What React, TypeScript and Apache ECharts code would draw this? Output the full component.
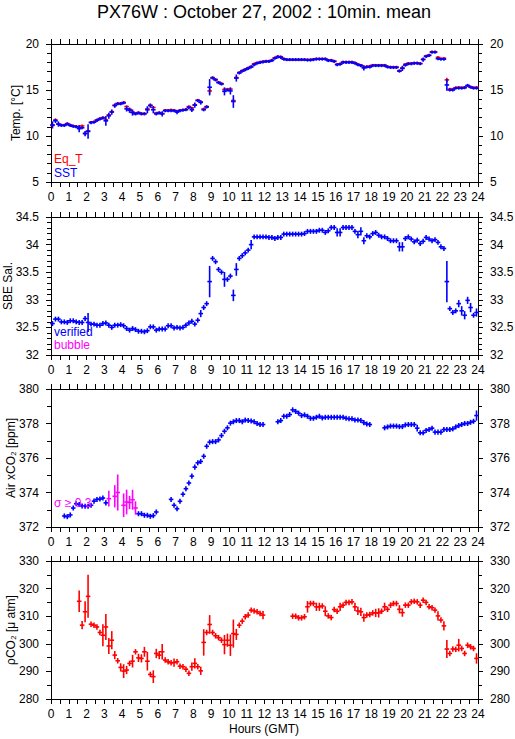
import React, { useEffect, useRef } from "react";
import * as echarts from "echarts";

const TITLE = "PX76W : October 27, 2002 : 10min. mean";
const X_NAME = "Hours (GMT)";
const X_MIN = 0;
const X_MAX = 24;
const SLOT_H = 1 / 6; // 10-minute means

// Panel 1: temperatures (°C), one value per 10-min slot
const EQ_T = [
  11.15, 11.75, 11.3, 11.2, 11.2, 11.35, 11.2, 11.1, 11.05, 10.95,
  11.1, 10.3, 10.55, 11.5, 11.55, 11.75, 11.9, 12.0, 11.75, 12.3,
  12.65, 13.35, 13.55, 13.55, 13.65, 13.2, 12.9, 12.6, 12.45, 12.55,
  12.45, 12.45, 12.95, 13.35, 13.1, 12.5, 12.55, 12.45, 12.8, 12.8,
  12.85, 12.8, 12.7, 12.8, 12.85, 12.9, 13.2, 13.05, 13.4, 13.9,
  13.7, 12.95, 13.2, 14.9, 16.35, 16.15, 15.85, 15.7, 15.05, 15.1,
  15.1, 13.85, 16.35, 16.9, 17.1, 17.25, 17.4, 17.55, 17.85, 17.95,
  18.0, 18.1, 18.15, 18.15, 18.25, 18.5, 18.65, 18.6, 18.4, 18.3,
  18.3, 18.3, 18.3, 18.3, 18.3, 18.3, 18.3, 18.3, 18.35, 18.4,
  18.4, 18.4, 18.4, 18.25, 18.25, 18.15, 17.8, 17.85, 18.05, 18.05,
  18.05, 18.05, 17.95, 17.8, 17.7, 17.5, 17.55, 17.6, 17.7, 17.7,
  17.7, 17.7, 17.7, 17.55, 17.5, 17.5, 17.5, 17.1, 17.4, 17.8,
  17.9, 17.9, 17.95, 17.95, 17.9, 18.35, 18.7, 18.8, 19.15, 19.15,
  18.55, 18.4, 18.45, 16.1, 15.1, 15.1, 15.25, 15.3, 15.25, 15.3,
  15.45, 15.35, 15.25, 15.3,
];
const EQ_T_ERR: Record<number, number> = { 53: 0.2, 133: 0.15 };
const EQ_T_ERR_DEFAULT = 0.05;

const SST = [
  11.2, 11.65, 11.3, 11.15, 11.15, 11.3, 11.15, 11.05, 11.0, 10.8,
  10.9, 10.25, 10.5, 11.45, 11.5, 11.7, 11.85, 11.95, 11.65, 12.2,
  12.6, 13.3, 13.5, 13.5, 13.6, 12.95, 12.8, 12.55, 12.4, 12.5,
  12.4, 12.4, 12.85, 13.3, 12.85, 12.4, 12.5, 12.4, 12.75, 12.75,
  12.75, 12.75, 12.6, 12.75, 12.8, 12.85, 13.1, 12.85, 13.35, 13.85,
  13.65, 12.85, 13.15, 15.3, 16.3, 16.1, 15.8, 15.65, 14.85, 15.0,
  14.9, 13.75, 16.3, 16.85, 17.05, 17.2, 17.35, 17.5, 17.75, 17.9,
  18.0, 18.05, 18.1, 18.1, 18.2, 18.45, 18.6, 18.55, 18.35, 18.3,
  18.3, 18.3, 18.3, 18.3, 18.3, 18.3, 18.25, 18.25, 18.3, 18.35,
  18.35, 18.35, 18.35, 18.2, 18.2, 18.1, 17.75, 17.8, 18.0, 18.0,
  18.0, 18.0, 17.9, 17.75, 17.65, 17.4, 17.5, 17.5, 17.65, 17.65,
  17.65, 17.65, 17.65, 17.5, 17.45, 17.45, 17.45, 17.05, 17.35, 17.7,
  17.85, 17.85, 17.9, 17.9, 17.85, 18.3, 18.65, 18.75, 19.1, 19.1,
  18.4, 18.35, 18.35, 15.55, 15.0, 15.0, 15.2, 15.2, 15.2, 15.25,
  15.5, 15.3, 15.2, 15.2,
];
const SST_ERR: Record<number, number> = {
  0: 0.3, 1: 0.15, 2: 0.2, 9: 0.3, 11: 0.2, 12: 0.7, 18: 0.45, 19: 0.25, 20: 0.2,
  21: 0.15, 25: 0.2, 26: 0.2, 27: 0.25, 32: 0.3, 33: 0.15, 34: 0.3, 37: 0.2,
  42: 0.15, 47: 0.15, 48: 0.2, 50: 0.15, 53: 0.8, 58: 0.35, 60: 0.3, 61: 0.6,
  62: 0.3, 105: 0.2, 118: 0.2, 125: 0.15, 133: 0.55,
};
const SST_ERR_DEFAULT = 0.08;

// Panel 2: SBE salinity (verified)
const SAL = [
  32.57, 32.65, 32.65, 32.6, 32.6, 32.59, 32.62, 32.62, 32.6, 32.59,
  32.59, 32.66, 32.59, 32.56, 32.56, 32.54, 32.54, 32.57, 32.58, 32.54,
  32.5, 32.54, 32.54, 32.55, 32.53, 32.48, 32.45, 32.48, 32.46, 32.43,
  32.43, 32.42, 32.44, 32.51, 32.51, 32.45, 32.47, 32.47, 32.47, 32.53,
  32.53, 32.49, 32.5, 32.49, 32.5, 32.54, 32.58, 32.61, 32.56, 32.63,
  32.75, 32.86, 32.93, 33.33, 33.75, 33.69, 33.55, 33.5, 33.37, 33.37,
  33.43, 33.08, 33.55, 33.75, 33.8, 33.85, 33.9, 34.0, 34.14, 34.14,
  34.14, 34.14, 34.14, 34.13, 34.13, 34.11, 34.13, 34.13, 34.19, 34.19,
  34.19, 34.19, 34.19, 34.19, 34.19, 34.2, 34.24, 34.24, 34.24, 34.24,
  34.26, 34.26, 34.22, 34.25, 34.31, 34.31, 34.22, 34.22, 34.31, 34.31,
  34.31, 34.31, 34.24, 34.18, 34.24, 34.07, 34.16, 34.14, 34.2, 34.22,
  34.17, 34.14, 34.14, 34.11, 34.07, 34.07, 34.07, 33.96, 33.96, 34.11,
  34.14, 34.1, 34.05, 34.08, 34.02, 34.06, 34.13, 34.1, 34.07, 34.09,
  34.04, 33.96, 33.93, 33.33, 32.84, 32.77, 32.8, 32.93, 32.8, 32.72,
  32.99, 32.86, 32.72, 32.77,
];
const SAL_ERR: Record<number, number> = {
  12: 0.157, 50: 0.05, 53: 0.27, 58: 0.12, 61: 0.09, 62: 0.1, 67: 0.07,
  96: 0.06, 97: 0.06, 103: 0.05, 104: 0.06, 105: 0.05, 117: 0.07, 118: 0.07,
  133: 0.36, 137: 0.05, 138: 0.07, 139: 0.06, 140: 0.05, 141: 0.07, 143: 0.06,
};
const SAL_ERR_DEFAULT = 0.03;

// Panel 3: atmospheric xCO2 (ppm)
const AIR = [
  null, null, null, null, 372.64, 372.6, 372.7, 373.1, 373.35, 373.3,
  373.22, 373.2, 373.2, 373.26, 373.5, 373.6, 373.62, 373.68, 373.4, 373.64,
  null, 373.78, 374.0, null, 373.26, 373.45, 373.42, 373.58, 373.1, 372.77,
  372.77, 372.68, 372.68, 372.62, 372.66, 372.87, null, null, null, null,
  373.6, 373.26, 373.06, 373.49, 373.9, 374.22, 374.55, 374.95, 375.47, 375.72,
  375.8, 376.1, 376.68, 376.92, 376.95, 376.95, 377.05, 377.3, 377.55, 377.75,
  378.02, 378.1, 378.17, 378.17, 378.1, 378.2, 378.17, 378.15, 378.1, 378.0,
  377.94, 377.94, null, null, null, null, 378.1, 378.17, 378.42, 378.42,
  378.52, 378.79, 378.7, 378.6, 378.46, 378.5, 378.42, 378.3, 378.3, 378.36,
  378.42, 378.32, 378.36, 378.36, 378.36, 378.36, 378.36, 378.36, 378.36, 378.3,
  378.27, 378.27, 378.2, 378.2, 378.17, 378.05, 377.97, 377.94, null, null,
  null, null, 377.75, 377.8, 377.85, 377.85, 377.85, 377.82, 377.82, 377.92,
  377.94, 377.94, 377.94, 377.73, 377.46, 377.46, 377.6, 377.65, 377.73, 377.5,
  377.5, 377.5, 377.65, 377.65, 377.65, 377.69, 377.8, 377.88, 377.94, 378.0,
  378.0, 378.07, 378.13, 378.46,
];
const AIR_ERR: Record<number, number> = {
  19: 0.41, 21: 0.6, 22: 1.0, 24: 0.64, 25: 0.67, 26: 0.34, 27: 0.53, 28: 0.34,
  123: 0.15, 143: 0.25,
};
const AIR_ERR_DEFAULT = 0.1;
const SIGMA_LIMIT = 0.3;

// Panel 4: pCO2 (µatm)
const PCO2 = [
  null, null, null, null, null, null, null, null, null, 315.4,
  306.75, 311.6, 317.2, 307.1, 306.75, 306.1, 304.1, 303.1, 306.1, 299.2,
  301.3, 295.9, 293.85, 291.45, 290.1, 290.5, 292.9, 293.7, 297.1, 294.9,
  294.7, 297.1, 293.7, 288.9, 288.1, 296.5, 295.9, 297.1, 294.1, 293.5,
  293.1, 293.2, 293.5, 291.9, 291.7, 290.8, 289.3, 291.7, 292.9, 291.7,
  290.2, 300.5, 304.1, 307.0, 304.1, 302.9, 302.2, 301.3, 299.7, 301.3,
  299.5, 303.7, 303.4, 306.75, 308.2, 309.8, 310.4, 312.2, 311.9, 311.6,
  311.0, 310.4, null, null, null, null, null, null, null, null,
  null, 310.0, 310.0, 309.4, 309.4, 309.8, 313.4, 314.6, 314.6, 313.4,
  313.4, 313.7, 311.8, 310.1, 309.5, 312.4, 311.8, 313.4, 314.0, 315.0,
  315.0, 315.2, 313.4, 311.9, 311.6, 309.5, 310.4, 310.6, 311.2, 311.2,
  311.2, 311.8, 313.4, 312.5, 314.0, 314.6, 314.6, 312.5, 311.3, 314.0,
  314.0, 315.2, 315.4, 315.2, 314.0, 315.8, 315.0, 313.4, 313.1, 312.2,
  310.1, 308.6, 306.5, 298.1, 296.5, 298.1, 298.0, 299.5, 298.3, 296.5,
  299.5, 298.9, 298.3, 294.7,
];
const PCO2_ERR: Record<number, number> = {
  9: 3.6, 10: 1.2, 11: 3.5, 12: 7.5, 17: 3.7, 18: 4.4, 19: 2.6, 20: 3.0, 21: 1.2,
  23: 1.2, 24: 2.2, 25: 1.2, 27: 2.0, 29: 1.2, 30: 1.2, 31: 1.5, 32: 3.1, 34: 2.0,
  35: 1.4, 36: 1.2, 37: 2.5, 41: 1.2, 47: 1.2, 48: 1.6, 50: 1.2, 51: 4.5, 53: 3.1,
  58: 3.2, 59: 2.1, 60: 3.6, 61: 4.8, 62: 1.7, 71: 1.2, 86: 1.8, 89: 1.2, 90: 1.2,
  92: 1.5, 97: 1.2, 102: 1.2, 103: 1.2, 104: 1.2, 105: 1.2, 109: 1.2, 110: 1.4,
  112: 1.2, 117: 1.2, 118: 1.2, 130: 1.4, 132: 1.4, 133: 3.0, 137: 2.0, 143: 1.6,
};
const PCO2_ERR_DEFAULT = 0.7;

const PANELS = [
  { name: "Temp. [°C]", min: 5, max: 20, interval: 5, minor: 5, nameGap: 29 },
  { name: "SBE Sal.", min: 32, max: 34.5, interval: 0.5, minor: 5, nameGap: 37 },
  { name: "Air xCO₂ [ppm]", min: 372, max: 380, interval: 2, minor: 2, nameGap: 34 },
  { name: "ρCO₂ [μ atm]", min: 280, max: 330, interval: 10, minor: 2, nameGap: 34 },
];

const FONT = "'Liberation Sans', Arial, Helvetica, sans-serif";
const BLUE = "#0000ff";
const RED = "#ff0000";
const MAGENTA = "#ff00ff";

type Pt = [number, number, number];

function toPoints(
  vals: (number | null)[],
  errs: Record<number, number>,
  def: number,
  keep: (err: number) => boolean = () => true
): Pt[] {
  const out: Pt[] = [];
  vals.forEach((v, i) => {
    if (v === null || v === undefined) return;
    const e = errs[i] !== undefined ? errs[i] : def;
    if (!keep(e)) return;
    out.push([(i + 0.5) * SLOT_H, v, e]);
  });
  return out;
}

function crossSeries(g: number, data: Pt[], color: string, z: number) {
  return {
    type: "custom",
    xAxisIndex: g * 2,
    yAxisIndex: g * 2,
    z,
    data,
    renderItem: (_params: any, api: any) => {
      const t = api.value(0);
      const v = api.value(1);
      const e = api.value(2);
      const l = api.coord([t - SLOT_H / 2, v]);
      const r = api.coord([t + SLOT_H / 2, v]);
      const top = api.coord([t, v + e]);
      const bot = api.coord([t, v - e]);
      const st = { stroke: color, lineWidth: 1.6, lineCap: "square" };
      return {
        type: "group",
        children: [
          { type: "line", shape: { x1: l[0], y1: l[1], x2: r[0], y2: r[1] }, style: st },
          { type: "line", shape: { x1: top[0], y1: top[1], x2: bot[0], y2: bot[1] }, style: st },
        ],
      };
    },
  };
}

export default function App() {
  const ref = useRef<HTMLDivElement>(null);

  useEffect(() => {
    if (!ref.current) return;
    const chart = echarts.init(ref.current, undefined, { renderer: "svg" });

    const tops = [44, 217, 389, 561];
    const H = 138;
    const grids = tops.map((t) => ({
      left: 51, width: 427, top: t, height: H,
      containLabel: false, outerBoundsMode: "none",
    }));

    const black = { color: "#000", width: 1 };
    const xAxes: any[] = [];
    const yAxes: any[] = [];
    PANELS.forEach((p, g) => {
      const xBase = {
        type: "value",
        gridIndex: g,
        min: X_MIN,
        max: X_MAX,
        interval: 1,
        axisLine: { show: true, onZero: false, lineStyle: black },
        axisTick: { show: true, length: 5, lineStyle: black },
        minorTick: { show: true, splitNumber: 2, length: 5, lineStyle: black },
        splitLine: { show: false },
        minorSplitLine: { show: false },
      };
      xAxes.push({
        ...xBase,
        position: "bottom",
        axisLabel: {
          show: true, fontSize: 12, fontFamily: FONT, color: "#000", margin: 9,
          showMinLabel: true, showMaxLabel: true,
        },
      });
      xAxes.push({ ...xBase, position: "top", axisLabel: { show: false } });

      const yBase = {
        type: "value",
        gridIndex: g,
        min: p.min,
        max: p.max,
        interval: p.interval,
        axisLine: { show: true, onZero: false, lineStyle: black },
        axisTick: { show: true, length: 5, lineStyle: black },
        minorTick: { show: true, splitNumber: p.minor, length: 4, lineStyle: black },
        splitLine: { show: false },
        minorSplitLine: { show: false },
      };
      yAxes.push({
        ...yBase,
        position: "left",
        name: p.name,
        nameLocation: "middle",
        nameGap: p.nameGap,
        nameRotate: 90,
        nameMoveOverlap: false,
        nameTextStyle: { fontSize: 12, fontFamily: FONT, color: "#000" },
        axisLabel: {
          show: true, fontSize: 12, fontFamily: FONT, color: "#000", margin: 12,
          showMinLabel: true, showMaxLabel: true,
        },
      });
      yAxes.push({
        ...yBase,
        position: "right",
        axisLabel: {
          show: true, fontSize: 12, fontFamily: FONT, color: "#000", margin: 12,
          showMinLabel: true, showMaxLabel: true,
        },
      });
    });

    const series = [
      crossSeries(0, toPoints(EQ_T, EQ_T_ERR, EQ_T_ERR_DEFAULT), RED, 2),
      crossSeries(0, toPoints(SST, SST_ERR, SST_ERR_DEFAULT), BLUE, 3),
      crossSeries(1, toPoints(SAL, SAL_ERR, SAL_ERR_DEFAULT), BLUE, 3),
      crossSeries(2, toPoints(AIR, AIR_ERR, AIR_ERR_DEFAULT, (e) => e < SIGMA_LIMIT), BLUE, 3),
      crossSeries(2, toPoints(AIR, AIR_ERR, AIR_ERR_DEFAULT, (e) => e >= SIGMA_LIMIT), MAGENTA, 4),
      crossSeries(3, toPoints(PCO2, PCO2_ERR, PCO2_ERR_DEFAULT), RED, 3),
    ];

    const txt = (x: number, y: number, text: string, fill: string, size = 12) => ({
      type: "text",
      x,
      y,
      z: 10,
      style: { text, fill, font: `${size}px ${FONT}`, textVerticalAlign: "top" },
    });

    chart.setOption({
      animation: false,
      backgroundColor: "#fff",
      grid: grids,
      xAxis: xAxes,
      yAxis: yAxes,
      series,
      graphic: [
        { type: "text", x: 264, y: 3, style: { text: TITLE, fill: "#000", font: `18px ${FONT}`, textAlign: "center", textVerticalAlign: "top" } },
        { type: "text", x: 264, y: 723, style: { text: X_NAME, fill: "#000", font: `12px ${FONT}`, textAlign: "center", textVerticalAlign: "top" } },
        txt(54, 153, "Eq_T", RED),
        txt(54, 167, "SST", BLUE),
        txt(54, 326, "verified", BLUE),
        txt(54, 339, "bubble", MAGENTA),
        txt(54, 497, "σ ≥ 0.3", MAGENTA),
      ],
    });

    return () => chart.dispose();
  }, []);

  return (
    <div
      ref={ref}
      style={{ position: "fixed", left: 0, top: 0, width: 515, height: 739, background: "#fff" }}
    />
  );
}
